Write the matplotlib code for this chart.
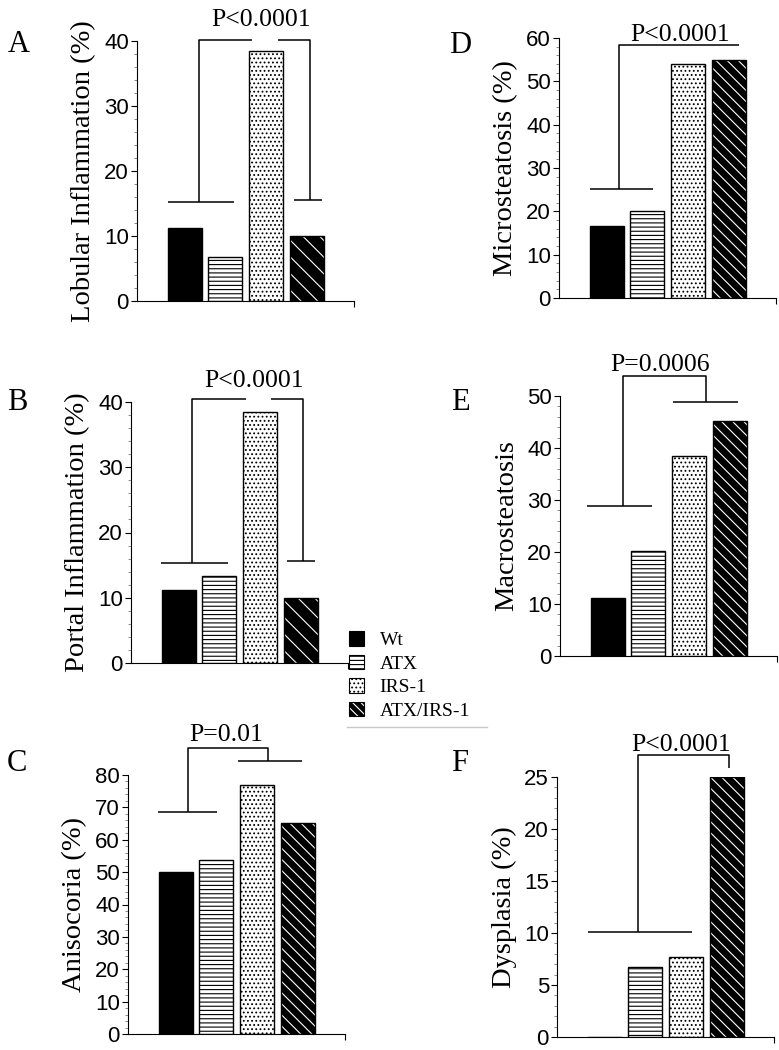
import matplotlib
matplotlib.use('Agg')
import matplotlib.pyplot as plt
from matplotlib.patches import Patch
from matplotlib.lines import Line2D
from matplotlib.ticker import MultipleLocator

# group order: Wt, ATX, IRS-1, ATX/IRS-1
groups = ['Wt', 'ATX', 'IRS-1', 'ATX/IRS-1']
lobular = [11.2, 6.7, 38.5, 10.0]
portal = [11.2, 13.4, 38.5, 10.0]
anisocoria = [50.0, 53.6, 77.0, 65.2]
microsteatosis = [16.6, 20.1, 53.9, 55.0]
macrosteatosis = [11.2, 20.1, 38.5, 45.1]
dysplasia = [0.0, 6.7, 7.7, 25.0]

W, H = 779, 1050
plt.rcParams['font.family'] = 'Liberation Sans'
plt.rcParams['hatch.linewidth'] = 0.8
SERIF = 'Liberation Serif'

fig = plt.figure(figsize=(W / 100, H / 100), dpi=100)

# letter, values, ylabel, ymax, major, minor, axes box (left, top, bottom px),
# p text, text pos, bracket polylines, diagonal hatch, letter pos
panels = [
    ('A', lobular, 'Lobular Inflammation (%)', 40, 10, 2, (137, 41, 301),
     'P<0.0001', (1.88, 42.3),
     [[(-0.42, 15.3), (1.21, 15.3)],
      [(0.35, 15.3), (0.35, 40.2), (1.65, 40.2)],
      [(2.30, 40.2), (3.09, 40.2), (3.09, 15.5)],
      [(2.69, 15.5), (3.38, 15.5)]], '\\\\', (19, 52)),
    ('B', portal, 'Portal Inflammation (%)', 40, 10, 2, (131, 402, 663),
     'P<0.0001', (1.86, 42.3),
     [[(-0.43, 15.4), (1.22, 15.4)],
      [(0.33, 15.4), (0.33, 40.5), (1.66, 40.5)],
      [(2.27, 40.5), (3.06, 40.5), (3.06, 15.7)],
      [(2.67, 15.7), (3.36, 15.7)]], '\\\\', (17, 410)),
    ('C', anisocoria, 'Anisocoria (%)', 80, 10, 2, (128, 775, 1034),
     'P=0.01', (1.25, 90.5),
     [[(-0.44, 68.5), (1.01, 68.5)],
      [(0.30, 68.5), (0.30, 88.2), (2.26, 88.2), (2.26, 84.3)],
      [(1.52, 84.3), (3.10, 84.3)]], '\\\\\\', (17, 771)),
    ('D', microsteatosis, 'Microsteatosis (%)', 60, 10, 2, (559, 38, 298),
     'P<0.0001', (1.80, 59.4),
     [[(-0.40, 25.2), (1.14, 25.2)],
      [(0.31, 25.2), (0.31, 58.3), (3.24, 58.3)]], '\\\\\\', (460, 53)),
    ('E', macrosteatosis, 'Macrosteatosis', 50, 10, 2, (560, 396, 656),
     'P=0.0006', (1.29, 54.9),
     [[(-0.50, 28.9), (1.09, 28.9)],
      [(0.38, 28.9), (0.38, 53.9), (2.42, 53.9), (2.42, 48.8)],
      [(1.61, 48.8), (3.21, 48.8)]], '\\\\\\', (460, 410)),
    ('F', dysplasia, 'Dysplasia (%)', 25, 5, 1, (557, 777, 1037),
     'P<0.0001', (1.89, 27.5),
     [[(-0.41, 10.1), (2.14, 10.1)],
      [(0.83, 10.1), (0.83, 27.1), (3.05, 27.1), (3.05, 25.9)]], '\\\\\\', (460, 771)),
]

xlim = (-1.17, 4.16)
axw = 217
bw = 0.84
x = list(range(len(groups)))

for (letter, vals, ylab, ymax, major, minor, box, ptxt, ppos, brackets,
     diag, lpos) in panels:
    left, top, bottom = box
    ax = fig.add_axes([left / W, 1 - bottom / H, axw / W, (bottom - top) / H])
    # Wt solid, ATX lines, IRS-1 dots, ATX/IRS-1 black with white stripes
    ax.bar(x[0], vals[0], bw, color='black', edgecolor='black', lw=1)
    ax.bar(x[1], vals[1], bw, color='white', edgecolor='black', lw=1, hatch='----')
    ax.bar(x[2], vals[2], bw, color='white', edgecolor='black', lw=1, hatch='....')
    ax.bar(x[3], vals[3], bw, color='black', edgecolor='white', lw=0, hatch=diag)
    ax.bar(x[3], vals[3], bw, fill=False, edgecolor='black', lw=1)

    for line in brackets:
        xs = [p[0] for p in line]
        ys = [p[1] for p in line]
        ax.plot(xs, ys, color='black', lw=1.1, clip_on=False, solid_capstyle='butt')
    ax.text(ppos[0], ppos[1], ptxt, ha='center', va='baseline', fontsize=18.5,
            family=SERIF, clip_on=False)

    ax.set_xlim(*xlim)
    ax.set_ylim(0, ymax)
    ax.yaxis.set_major_locator(MultipleLocator(major))
    ax.yaxis.set_minor_locator(MultipleLocator(minor))
    ax.set_xticks([xlim[1]])
    ax.set_xticklabels([''])
    ax.tick_params(axis='x', length=4, width=0.8)
    ax.tick_params(axis='y', which='major', length=4.3, width=0.8, pad=1.5,
                   labelsize=16)
    ax.tick_params(axis='y', which='minor', length=2.2, width=0.6, color='#777777')
    for s in ['top', 'right']:
        ax.spines[s].set_visible(False)
    for s in ['left', 'bottom']:
        ax.spines[s].set_linewidth(0.8)
    ax.text(-53 / axw, 0.5, ylab, rotation=90, ha='center', va='center',
            fontsize=20.5, family=SERIF, transform=ax.transAxes)
    fig.text(lpos[0] / W, 1 - lpos[1] / H, letter, ha='center', va='baseline',
             fontsize=22, family=SERIF)

# legend
handles = [
    Patch(facecolor='black', edgecolor='black', lw=0.8),
    Patch(facecolor='white', edgecolor='black', lw=0.8, hatch='----'),
    Patch(facecolor='white', edgecolor='black', lw=0.8, hatch='....'),
    (Patch(facecolor='black', edgecolor='white', lw=0, hatch='\\\\\\\\'),
     Patch(fill=False, edgecolor='black', lw=0.8)),
]
fig.legend(handles, groups, loc='upper left',
           bbox_to_anchor=(349 / W, 1 - 631 / H), frameon=False,
           prop={'family': SERIF, 'size': 14}, handlelength=0.78,
           handleheight=0.78, handletextpad=0.8, labelspacing=0.28,
           borderpad=0, borderaxespad=0)
fig.add_artist(Line2D([347 / W, 487 / W], [1 - 727 / H, 1 - 727 / H],
                      color='#c8c8c8', lw=1))

fig.savefig('out.png', dpi=100)
